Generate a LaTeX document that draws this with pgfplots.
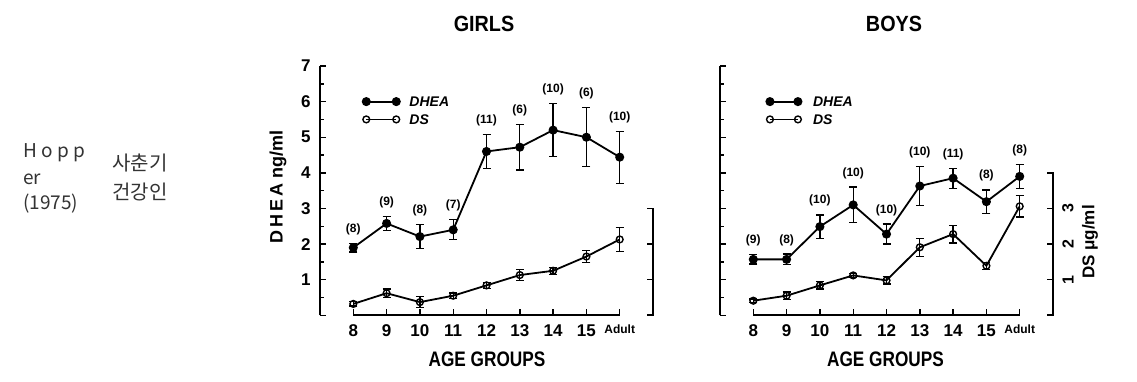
\documentclass[border=0pt]{standalone}
\usepackage{pgfplots}
\pgfplotsset{compat=1.18}
\usepackage{pgfplotstable}
\usepackage{graphicx}
\usepackage{fontspec}
\setmainfont{Liberation Sans}
\newfontfamily\kr{Noto Sans CJK KR}
\newcommand\fs[1]{\fontsize{#1}{#1}\selectfont}

\pgfplotstableread{
x y e n
8 1.90 0.12 (8)
9 2.58 0.20 (9)
10 2.21 0.33 (8)
11 2.40 0.28 (7)
12 4.60 0.48 (11)
13 4.72 0.64 (6)
14 5.20 0.74 (10)
15 5.00 0.83 (6)
16 4.44 0.73 (10)
}\gdhea
\pgfplotstableread{
x y e
8 0.32 0.06
9 0.62 0.12
10 0.37 0.15
11 0.55 0.08
12 0.84 0.08
13 1.13 0.15
14 1.25 0.10
15 1.65 0.17
16 2.13 0.33
}\gds
\pgfplotstableread{
x y e n
8 1.57 0.13 (9)
9 1.57 0.15 (8)
10 2.49 0.33 (10)
11 3.10 0.50 (10)
12 2.28 0.28 (10)
13 3.63 0.54 (10)
14 3.85 0.28 (11)
15 3.19 0.33 (8)
16 3.90 0.33 (8)
}\bdhea
\pgfplotstableread{
x y e
8 0.41 0.05
9 0.55 0.10
10 0.84 0.10
11 1.12 0.05
12 0.98 0.10
13 1.91 0.25
14 2.28 0.25
15 1.39 0.10
16 3.06 0.30
}\bds

\pgfplotsset{
 panel/.style={
  scale only axis, width=333pt, height=249.3pt,
  xmin=7, xmax=17, ymin=0, ymax=7, clip=false,
  axis x line=bottom, axis y line=left,
  axis line style={-, line width=1.6pt},
  x axis line style={draw=none},
  tick align=inside,
  xtick={8,...,16},
  xticklabels={8,9,10,11,12,13,14,15,{\fs{12}Adult}},
  ytick={0,...,7},
  minor ytick={0.5,1.5,...,6.5},
  major tick length=6pt, minor tick length=3.5pt,
  every tick/.style={black, line width=1.4pt},
  tick label style={font=\fs{17}\bfseries},
  xticklabel style={yshift=-6pt},
  yticklabel style={xshift=-6pt},
 },
 dhea/.style={black, line width=1.8pt, mark=*, mark size=3.6pt, mark options={solid}},
 ds/.style={black, line width=1.8pt, mark=o, mark size=3.4pt, mark options={solid, fill=white, line width=1.4pt}},
 lbl/.style={draw=none, mark=none, nodes near coords, point meta=explicit symbolic,
   every node near coord/.append style={font=\fs{12}\bfseries, anchor=south, yshift=5pt}},
}

\begin{document}
\begin{tikzpicture}
\useasboundingbox (0,0) rectangle (1137pt,382pt);

% GIRLS
\begin{axis}[panel, at={(320pt,66.7pt)}, anchor=south west, yticklabels={,1,2,3,4,5,6,7}]
\draw[line width=1.6pt] (axis cs:8,0) -- (axis cs:16,0);
\draw[line width=1.6pt] ([xshift=-6pt]axis cs:17,3) -- (axis cs:17,3) -- (axis cs:17,0) -- ([xshift=-6pt]axis cs:17,0);
\draw[line width=1.4pt] (axis cs:17,1) -- ([xshift=-6pt]axis cs:17,1);
\draw[line width=1.4pt] (axis cs:17,2) -- ([xshift=-6pt]axis cs:17,2);
\addplot[ds, error bars/.cd, y dir=both, y explicit, error bar style={line width=1.3pt}, error mark options={rotate=90, mark size=4pt, line width=1.3pt}] table[x=x, y=y, y error=e] \gds;
\addplot[dhea, error bars/.cd, y dir=both, y explicit, error bar style={line width=1.3pt}, error mark options={rotate=90, mark size=4pt, line width=1.3pt}] table[x=x, y=y, y error=e] \gdhea;
\addplot[lbl] table[x=x, y expr=\thisrow{y}+\thisrow{e}, meta=n] \gdhea;
\addplot[dhea] coordinates {(8.39,6) (9.29,6)};
\addplot[ds] coordinates {(8.39,5.5) (9.29,5.5)};
\node[anchor=west, inner sep=0, font=\fs{14}\bfseries\itshape] at (axis cs:9.68,6) {DHEA};
\node[anchor=west, inner sep=0, font=\fs{14}\bfseries\itshape] at (axis cs:9.68,5.5) {DS};
\end{axis}

% BOYS
\begin{axis}[panel, at={(720pt,66.7pt)}, anchor=south west, yticklabels={}]
\draw[line width=1.6pt] (axis cs:8,0) -- (axis cs:16,0);
\draw[line width=1.6pt] ([xshift=-6pt]axis cs:17,4) -- (axis cs:17,4) -- (axis cs:17,0) -- ([xshift=-6pt]axis cs:17,0);
\draw[line width=1.4pt] (axis cs:17,1) -- ([xshift=-6pt]axis cs:17,1);
\draw[line width=1.4pt] (axis cs:17,2) -- ([xshift=-6pt]axis cs:17,2);
\draw[line width=1.4pt] (axis cs:17,3) -- ([xshift=-6pt]axis cs:17,3);
\node[rotate=90, font=\fs{16}\bfseries] at (axis cs:17.45,3) {3};
\node[rotate=90, font=\fs{16}\bfseries] at (axis cs:17.45,2) {2};
\node[rotate=90, font=\fs{16}\bfseries] at (axis cs:17.45,1) {1};
\addplot[ds, error bars/.cd, y dir=both, y explicit, error bar style={line width=1.3pt}, error mark options={rotate=90, mark size=4pt, line width=1.3pt}] table[x=x, y=y, y error=e] \bds;
\addplot[dhea, error bars/.cd, y dir=both, y explicit, error bar style={line width=1.3pt}, error mark options={rotate=90, mark size=4pt, line width=1.3pt}] table[x=x, y=y, y error=e] \bdhea;
\addplot[lbl] table[x=x, y expr=\thisrow{y}+\thisrow{e}, meta=n] \bdhea;
\addplot[dhea] coordinates {(8.5,6) (9.34,6)};
\addplot[ds] coordinates {(8.5,5.5) (9.34,5.5)};
\node[anchor=west, inner sep=0, font=\fs{14}\bfseries\itshape] at (axis cs:9.79,6) {DHEA};
\node[anchor=west, inner sep=0, font=\fs{14}\bfseries\itshape] at (axis cs:9.79,5.5) {DS};
\end{axis}

% titles and labels
\node[font=\fs{22}\bfseries] at (484pt,358pt) {\scalebox{0.9}[1]{GIRLS}};
\node[font=\fs{22}\bfseries] at (894pt,358pt) {\scalebox{0.9}[1]{BOYS}};
\node[font=\fs{21}\bfseries] at (487pt,23pt) {\scalebox{0.82}[1]{AGE GROUPS}};
\node[font=\fs{21}\bfseries] at (885.5pt,23pt) {\scalebox{0.82}[1]{AGE GROUPS}};
\node[rotate=90, font=\fs{18}\bfseries] at (278pt,195pt) {D\,H\,E\,A ng/ml};
\node[rotate=90, font=\fs{17}\bfseries] at (1090pt,140pt) {DS μg/ml};

% left annotation
\node[anchor=base west, inner sep=0, font=\kr\fs{19}, text=black!80] at (23pt,224pt) {H\hspace{4.5pt}o\hspace{4.5pt}p\hspace{4.5pt}p};
\node[anchor=base west, inner sep=0, font=\kr\fs{19}, text=black!80] at (23pt,197pt) {er};
\node[anchor=base west, inner sep=0, font=\kr\fs{19}, text=black!80] at (23pt,172pt) {(1975)};
\node[anchor=base west, inner sep=0, font=\kr\fs{20}, text=black!80] at (112pt,211pt) {사춘기};
\node[anchor=base west, inner sep=0, font=\kr\fs{20}, text=black!80] at (112pt,182pt) {건강인};
\end{tikzpicture}
\end{document}
